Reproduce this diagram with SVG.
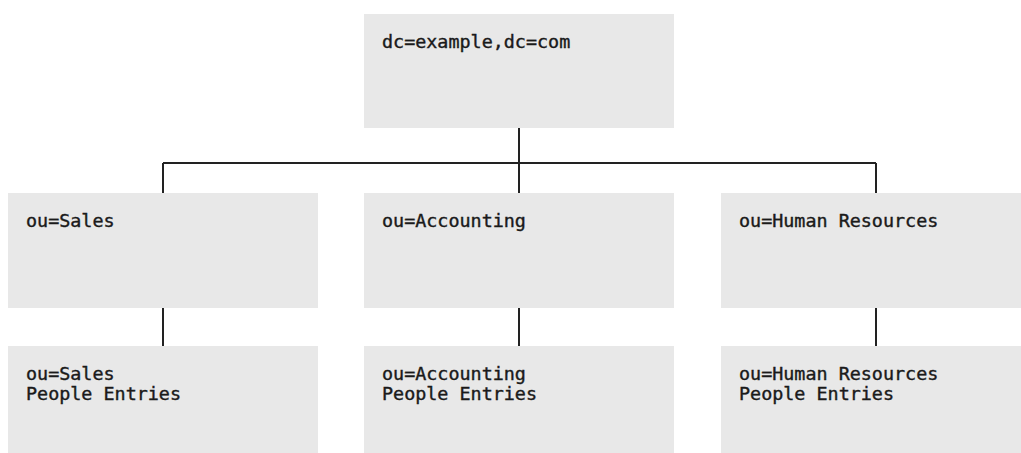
<svg xmlns="http://www.w3.org/2000/svg" width="1021" height="453" viewBox="0 0 1021 453">
<style>
.box{fill:#e8e8e8}
.t{font-family:"DejaVu Sans Mono","Liberation Mono",monospace;font-size:18.4px;fill:#1a1a1a;stroke:#1a1a1a;stroke-width:0.4}
.c{stroke:#222;stroke-width:2;fill:none}
</style>
<rect width="1021" height="453" fill="#ffffff"/>
<g id="connectors">
<path class="c" d="M519 128V163M163 163H876M163 163V193M519 163V193M876 163V193"/>
<path class="c" d="M163 308V346M519 308V346M876 308V346"/>
</g>
<g id="root"><rect class="box" x="364" y="14" width="310" height="114"/><text class="t" x="382" y="48">dc=example,dc=com</text></g>
<g id="sales"><rect class="box" x="8" y="193" width="310" height="115"/><text class="t" x="26" y="227">ou=Sales</text></g>
<g id="accounting"><rect class="box" x="364" y="193" width="310" height="115"/><text class="t" x="382" y="227">ou=Accounting</text></g>
<g id="hr"><rect class="box" x="721" y="193" width="310" height="115"/><text class="t" x="739" y="227">ou=Human Resources</text></g>
<g id="sales-people"><rect class="box" x="8" y="346" width="310" height="115"/><text class="t" x="26" y="380">ou=Sales</text><text class="t" x="26" y="400">People Entries</text></g>
<g id="accounting-people"><rect class="box" x="364" y="346" width="310" height="115"/><text class="t" x="382" y="380">ou=Accounting</text><text class="t" x="382" y="400">People Entries</text></g>
<g id="hr-people"><rect class="box" x="721" y="346" width="310" height="115"/><text class="t" x="739" y="380">ou=Human Resources</text><text class="t" x="739" y="400">People Entries</text></g>
</svg>
